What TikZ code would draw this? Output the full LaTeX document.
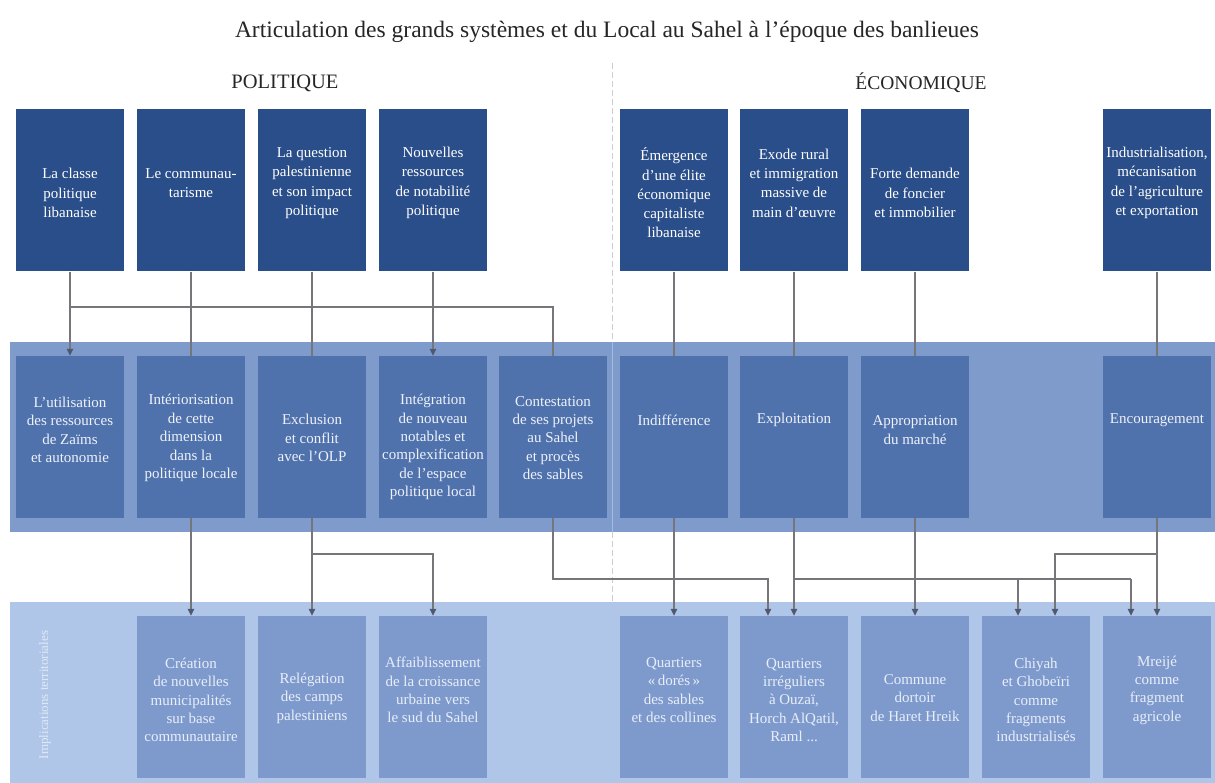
\documentclass[tikz,border=0pt]{standalone}
\usepackage{fontspec}
\setmainfont{Liberation Serif}
\usetikzlibrary{arrows.meta}
\definecolor{topc}{RGB}{42,78,137}
\definecolor{midbandc}{RGB}{127,155,204}
\definecolor{midboxc}{RGB}{80,114,172}
\definecolor{botbandc}{RGB}{176,198,232}
\definecolor{botboxc}{RGB}{126,154,205}
\definecolor{linec}{RGB}{118,118,122}
\definecolor{arrc}{RGB}{78,88,112}
\definecolor{divc}{RGB}{205,205,205}
\definecolor{divband}{RGB}{165,186,222}
\definecolor{mtextc}{RGB}{238,242,250}
\definecolor{btextc}{RGB}{232,238,248}
\begin{document}
\begin{tikzpicture}[x=1pt,y=-1pt,
  boxbase/.style={draw=none, minimum width=108pt, minimum height=162pt, inner sep=0pt},
  topbox/.style={boxbase, fill=topc},
  mbox/.style={boxbase, fill=midboxc},
  bbox/.style={boxbase, fill=botboxc},
  txt/.style={align=center, inner sep=0pt, font=\fontsize{15}{19.3}\selectfont, text=white},
  mtxt/.style={txt, font=\fontsize{15}{18.4}\selectfont, text=mtextc},
  btxt/.style={txt, font=\fontsize{15}{18.4}\selectfont, text=btextc},
  conn/.style={draw=linec, line width=1.2pt},
  arr/.style={conn, -{Triangle[length=7pt,width=6.5pt,color=arrc]}}
]
\useasboundingbox[fill=white] (0,0) rectangle (1215,783);

% bands
\fill[midbandc] (10,342) rectangle (1215,532);
\fill[botbandc] (10,602) rectangle (1215,783);

% divider
\draw[divc, line width=1pt, dash pattern=on 6pt off 3pt] (612,63) -- (612,342);
\draw[divband, line width=1pt] (612,342) -- (612,532);
\draw[divc, line width=1pt, dash pattern=on 6pt off 3pt] (612,532) -- (612,602);

% titles
\node[font=\fontsize{23.5}{27}\selectfont, text=black!85] (title) at (607,32) {Articulation des grands systèmes et du Local au Sahel à l’époque des banlieues};
\node[font=\fontsize{20.5}{24}\selectfont, text=black!85] (pol) at (285,83) {POLITIQUE};
\node[font=\fontsize{19.5}{23}\selectfont, text=black!85] (eco) at (921,83) {ÉCONOMIQUE};

% vertical label
\node[rotate=90, text=white, opacity=0.6, font=\fontsize{13}{15}\selectfont] (impl) at (45,695) {Implications territoriales};

% top boxes
\node[topbox] (t1) at (70,190.5) {};
\node[topbox] (t2) at (191,190.5) {};
\node[topbox] (t3) at (312,190.5) {};
\node[topbox] (t4) at (433,190.5) {};
\node[topbox] (t5) at (674,190.5) {};
\node[topbox] (t6) at (794,190.5) {};
\node[topbox] (t7) at (915,190.5) {};
\node[topbox] (t8) at (1157,190.5) {};

% middle boxes
\node[mbox] (m1) at (70,437) {};
\node[mbox] (m2) at (191,437) {};
\node[mbox] (m3) at (312,437) {};
\node[mbox] (m4) at (433,437) {};
\node[mbox] (m5) at (553,437) {};
\node[mbox] (m6) at (674,437) {};
\node[mbox] (m7) at (794,437) {};
\node[mbox] (m8) at (915,437) {};
\node[mbox] (m9) at (1157,437) {};

% bottom boxes
\node[bbox] (bCre) at (191,697) {};
\node[bbox] (bRel) at (312,697) {};
\node[bbox] (bAff) at (433,697) {};
\node[bbox] (bDor) at (674,697) {};
\node[bbox] (bIrr) at (794,697) {};
\node[bbox] (bCom) at (915,697) {};
\node[bbox] (bChi) at (1036,697) {};
\node[bbox] (bMre) at (1157,697) {};

% connectors top -> middle
\coordinate (h1) at (553,307);
\draw[arr] (t1.south) -- (m1.north);
\draw[conn] (t2.south) -- (m2.north);
\draw[conn] (t3.south) -- (m3.north);
\draw[arr] (t4.south) -- (m4.north);
\draw[conn] (t1.south |- h1) -- (h1) -- (m5.north);
\draw[conn] (t5.south) -- (m6.north);
\draw[conn] (t6.south) -- (m7.north);
\draw[conn] (t7.south) -- (m8.north);
\draw[conn] (t8.south) -- (m9.north);

% connectors middle -> bottom
\coordinate (h2) at (433,554);
\coordinate (h3) at (768,579);
\coordinate (h4) at (1131,579);
\coordinate (d1) at (1018,579);
\coordinate (h5) at (1055,554);
\draw[arr] (m2.south) -- (bCre.north);
\draw[arr] (m3.south) -- (bRel.north);
\draw[arr] (m3.south |- h2) -- (h2) -- (bAff.north);
\draw[arr] (m5.south) -- (m5.south |- h3) -- (h3) -- (h3 |- bIrr.north);
\draw[arr] (m6.south) -- (bDor.north);
\draw[arr] (m7.south) -- (bIrr.north);
\draw[conn] (m7.south |- h3) -- (h4);
\draw[arr] (d1) -- (d1 |- bChi.north);
\draw[arr] (h4) -- (h4 |- bMre.north);
\draw[arr] (m8.south) -- (bCom.north);
\draw[arr] (m9.south) -- (bMre.north);
\draw[arr] (m9.south |- h5) -- (h5) -- (h5 |- bChi.north);

% top texts
\node[txt] (tt1) at (70,193) {La classe\\politique\\libanaise};
\node[txt] (tt2) at (191,183) {Le communau-\\tarisme};
\node[txt] (tt3) at (312,183) {La question\\palestinienne\\et son impact\\politique};
\node[txt] (tt4) at (433,183) {Nouvelles\\ressources\\de notabilité\\politique};
\node[txt] (tt5) at (674,193) {Émergence\\d’une élite\\économique\\capitaliste\\libanaise};
\node[txt] (tt6) at (794,183) {Exode rural\\et immigration\\massive de\\main d’œuvre};
\node[txt] (tt7) at (915,193) {Forte demande\\de foncier\\et immobilier};
\node[txt] (tt8) at (1157,183) {Industrialisation,\\mécanisation\\de l’agriculture\\et exportation};

% middle texts
\node[mtxt] (mt1) at (70,430) {L’utilisation\\des ressources\\de Zaïms\\et autonomie};
\node[mtxt] (mt2) at (191,438) {Intériorisation\\de cette\\dimension\\dans la\\politique locale};
\node[mtxt] (mt3) at (312,438) {Exclusion\\et conflit\\avec l’OLP};
\node[mtxt] (mt4) at (433,447) {Intégration\\de nouveau\\notables et\\complexification\\de l’espace\\politique local};
\node[mtxt] (mt5) at (553,438) {Contestation\\de ses projets\\au Sahel\\et procès\\des sables};
\node[mtxt] (mt6) at (674,420) {Indifférence};
\node[mtxt] (mt7) at (794,420) {Exploitation};
\node[mtxt] (mt8) at (915,430) {Appropriation\\du marché};
\node[mtxt] (mt9) at (1157,420) {Encouragement};

% bottom texts
\node[btxt] (bt1) at (191,700) {Création\\de nouvelles\\municipalités\\sur base\\communautaire};
\node[btxt] (bt2) at (312,698) {Relégation\\des camps\\palestiniens};
\node[btxt] (bt3) at (433,690) {Affaiblissement\\de la croissance\\urbaine vers\\le sud du Sahel};
\node[btxt] (bt4) at (674,690) {Quartiers\\«\,dorés\,»\\des sables\\et des collines};
\node[btxt] (bt5) at (794,700) {Quartiers\\irréguliers\\à Ouzaï,\\Horch AlQatil,\\Raml ...};
\node[btxt] (bt6) at (915,698) {Commune\\dortoir\\de Haret Hreik};
\node[btxt] (bt7) at (1036,700) {Chiyah\\et Ghobeïri\\comme\\fragments\\industrialisés};
\node[btxt] (bt8) at (1157,690) {Mreijé\\comme\\fragment\\agricole};
\end{tikzpicture}
\end{document}
